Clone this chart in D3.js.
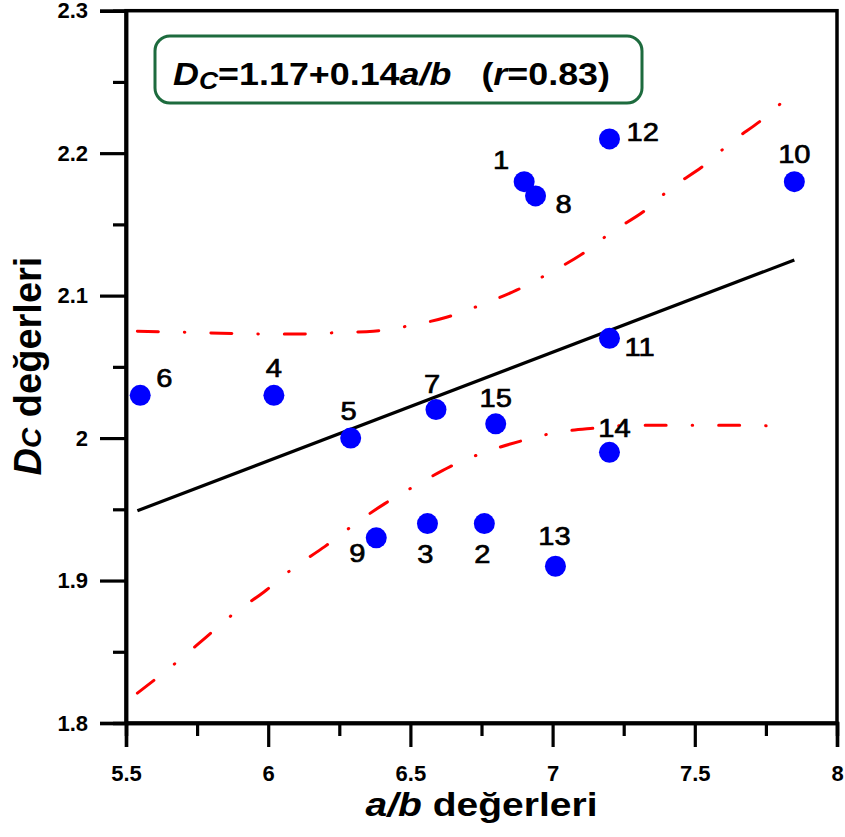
<!DOCTYPE html>
<html>
<head>
<meta charset="utf-8">
<script src="https://cdn.jsdelivr.net/npm/d3@7"></script>
<style>
  body { margin: 0; background: #fff; }
  svg text { font-family: "Liberation Sans", Arial, sans-serif; }
</style>
</head>
<body>
<svg id="chart" width="845" height="837"></svg>
<script>
// sample ids and measured values
var ids = ["1","2","3","4","5","6","7","8","9","10","11","12","13","14","15"];
var abValues = [6.90, 6.76, 6.56, 6.02, 6.29, 5.55, 6.59, 6.94, 6.38, 7.85, 7.20, 7.20, 7.01, 7.20, 6.80];
var dcValues = [2.18, 1.94, 1.94, 2.03, 2.00, 2.03, 2.02, 2.17, 1.93, 2.18, 2.07, 2.21, 1.91, 1.99, 2.01];

// fitted line (as drawn)
var fitX = [5.54, 7.85];
var fitY = [1.949, 2.125];

// confidence band, upper and lower
var upperX = [5.54, 5.76, 5.98, 6.11, 6.24, 6.37, 6.50, 6.63, 6.755, 6.875, 6.99, 7.11, 7.21, 7.32, 7.42, 7.53, 7.63, 7.74, 7.835];
var upperY = [2.075, 2.074, 2.073, 2.073, 2.074, 2.075, 2.079, 2.085, 2.094, 2.104, 2.116, 2.130, 2.145, 2.159, 2.176, 2.191, 2.208, 2.224, 2.241];
var lowerX = [5.54, 5.68, 5.78, 5.88, 5.985, 6.09, 6.20, 6.30, 6.41, 6.53, 6.64, 6.76, 6.89, 7.015, 7.15, 7.28, 7.41, 7.54, 7.67, 7.81];
var lowerY = [1.821, 1.843, 1.860, 1.877, 1.892, 1.909, 1.924, 1.939, 1.954, 1.968, 1.980, 1.990, 1.998, 2.004, 2.007, 2.009, 2.009, 2.009, 2.009, 2.008];

var xTicks = [5.5, 6, 6.5, 7, 7.5, 8];
var xMinor = [5.75, 6.25, 6.75, 7.25, 7.75];
var yTicks = [1.8, 1.9, 2, 2.1, 2.2, 2.3];
var yMinor = [1.85, 1.95, 2.05, 2.15, 2.25];

// label placement around each point: [anchor, dx, dy]
var labelPos = {
  "1": ["middle", -23, -13], "2": ["middle", -2, 39], "3": ["middle", -2, 39],
  "4": ["middle", 0, -18], "5": ["middle", -2, -18], "6": ["start", 16, -8],
  "7": ["middle", -4, -17], "8": ["start", 20, 17], "9": ["middle", -19, 24],
  "10": ["middle", 0, -19], "11": ["start", 15, 18], "12": ["start", 17, 2],
  "13": ["middle", -1, -21], "14": ["middle", 5, -15], "15": ["middle", 0, -17]
};

var svg = d3.select("#chart");
var plotL = 126, plotR = 837, plotT = 10.7, plotB = 723;

var x = d3.scaleLinear().domain([5.5, 8]).range([plotL, plotR]);
var y = d3.scaleLinear().domain([1.8, 2.3]).range([plotB, plotT]);

// frame
svg.append("rect")
  .attr("x", plotL).attr("y", plotT)
  .attr("width", plotR - plotL).attr("height", plotB - plotT)
  .attr("fill", "none").attr("stroke", "#000").attr("stroke-width", 3.5);

// axes
svg.append("g").attr("transform", "translate(0," + plotB + ")")
  .call(d3.axisBottom(x).tickValues(xTicks).tickSize(24).tickPadding(18).tickFormat(function(d) { return String(d); }));
svg.append("g").attr("transform", "translate(0," + plotB + ")")
  .call(d3.axisBottom(x).tickValues(xMinor).tickSize(13).tickFormat(""));
svg.append("g").attr("transform", "translate(" + plotL + ",0)")
  .call(d3.axisLeft(y).tickValues(yTicks).tickSize(26).tickPadding(12).tickFormat(function(d) { return String(d); }));
svg.append("g").attr("transform", "translate(" + plotL + ",0)")
  .call(d3.axisLeft(y).tickValues(yMinor).tickSize(13).tickFormat(""));

svg.selectAll(".domain").attr("stroke", "#000").attr("stroke-width", 3.5);
svg.selectAll(".tick line").attr("stroke", "#000").attr("stroke-width", 3.2);
svg.selectAll(".tick text")
  .attr("fill", "#000")
  .style("font-size", "22px")
  .style("font-weight", "bold")
  .style("font-family", "'Liberation Sans', Arial, sans-serif");

// confidence bands
var line = d3.line().curve(d3.curveMonotoneX);
function pts(xs, ys) { return xs.map(function(v, i) { return [x(v), y(ys[i])]; }); }

[pts(upperX, upperY), pts(lowerX, lowerY)].forEach(function(p) {
  svg.append("path")
    .attr("d", line(p))
    .attr("fill", "none")
    .attr("stroke", "#f00")
    .attr("stroke-width", 3)
    .attr("stroke-linecap", "round")
    .attr("stroke-dasharray", "21 26 0.5 26");
});

// regression line
svg.append("path")
  .attr("d", d3.line()(pts(fitX, fitY)))
  .attr("fill", "none").attr("stroke", "#000").attr("stroke-width", 3.2);

// points
svg.append("g").selectAll("circle")
  .data(ids)
  .join("circle")
  .attr("cx", function(d, i) { return x(abValues[i]); })
  .attr("cy", function(d, i) { return y(dcValues[i]); })
  .attr("r", 10.5)
  .attr("fill", "#0000ff");

// point labels
svg.append("g").selectAll("text")
  .data(ids)
  .join("text")
  .attr("transform", function(d, i) {
    var p = labelPos[d];
    return "translate(" + (x(abValues[i]) + p[1]) + "," + (y(dcValues[i]) + p[2]) + ") scale(1.12,1)";
  })
  .attr("text-anchor", function(d) { return labelPos[d][0]; })
  .style("font-size", "26px")
  .attr("fill", "#000")
  .attr("stroke", "#000").attr("stroke-width", 0.7)
  .text(function(d) { return d; });

// equation box
svg.append("rect")
  .attr("x", 155).attr("y", 36).attr("width", 487).attr("height", 67)
  .attr("rx", 15).attr("ry", 15)
  .attr("fill", "#fff").attr("stroke", "#1d6b3e").attr("stroke-width", 3);

var eq = svg.append("text")
  .attr("x", 173).attr("y", 85)
  .attr("textLength", 437).attr("lengthAdjust", "spacingAndGlyphs")
  .style("font-size", "31px").style("font-weight", "bold").attr("fill", "#000");
eq.append("tspan").style("font-style", "italic").text("D");
eq.append("tspan").style("font-style", "italic").style("font-size", "23px").attr("dy", 4).text("C");
eq.append("tspan").attr("dy", -4).text("=1.17+0.14");
eq.append("tspan").style("font-style", "italic").text("a/b");
eq.append("tspan").attr("dx", 26).text("(");
eq.append("tspan").style("font-style", "italic").text("r");
eq.append("tspan").text("=0.83)");

// axis titles
var xt = svg.append("text")
  .attr("x", (plotL + plotR) / 2).attr("y", 816)
  .attr("text-anchor", "middle")
  .attr("textLength", 232).attr("lengthAdjust", "spacingAndGlyphs")
  .style("font-size", "33px").style("font-weight", "bold").attr("fill", "#000");
xt.append("tspan").style("font-style", "italic").text("a/b");
xt.append("tspan").text(" değerleri");

var yt = svg.append("text")
  .attr("transform", "translate(41,366) rotate(-90)")
  .attr("text-anchor", "middle")
  .style("font-size", "38px").style("font-weight", "bold").attr("fill", "#000");
yt.append("tspan").style("font-style", "italic").text("D");
yt.append("tspan").style("font-style", "italic").style("font-size", "28px").text("C");
yt.append("tspan").text(" değerleri");
</script>
</body>
</html>
